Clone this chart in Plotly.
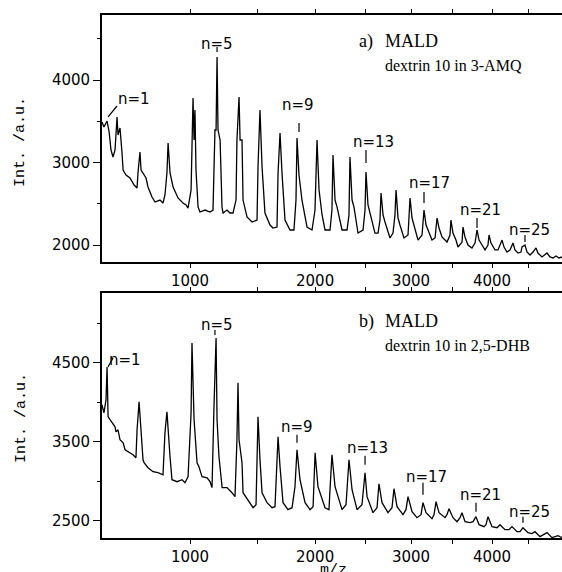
import numpy as np
import plotly.graph_objects as go

# ---------------- data ----------------
# a) MALD, dextrin 10 in 3-AMQ
mz_a = [502, 511, 526, 536, 545, 555, 565, 575, 580, 590,
        600, 606, 621, 642, 664, 680, 685, 696, 702, 713,
        730, 741, 764, 782, 811, 829, 841, 853, 860, 872,
        891, 922, 954, 974, 987, 1007, 1013, 1020, 1027, 1033,
        1040, 1054, 1067, 1102, 1137, 1158, 1172, 1180, 1187, 1194,
        1209, 1223, 1231, 1260, 1282, 1305, 1328, 1335, 1351, 1359,
        1374, 1382, 1413, 1453, 1493, 1501, 1517, 1534, 1558, 1600,
        1625, 1659, 1668, 1685, 1702, 1728, 1772, 1807, 1825, 1834,
        1852, 1879, 1925, 1971, 1999, 2018, 2037, 2066, 2094, 2142,
        2161, 2171, 2191, 2211, 2260, 2310, 2330, 2340, 2361, 2381,
        2422, 2474, 2495, 2505, 2526, 2547, 2600, 2633, 2654, 2665,
        2687, 2708, 2763, 2796, 2818, 2830, 2852, 2874, 2919, 2965,
        2976, 2988, 3011, 3034, 3080, 3127, 3138, 3150, 3174, 3197,
        3245, 3281, 3305, 3329, 3365, 3426, 3463, 3475, 3500, 3537,
        3562, 3613, 3625, 3650, 3688, 3739, 3778, 3804, 3830, 3869,
        3908, 3947, 3961, 3987, 4040, 4080, 4134, 4161, 4201, 4242,
        4283, 4310, 4352, 4393, 4407, 4449, 4477, 4519, 4562, 4604,
        4632, 4690, 4733, 4762, 4805, 4849, 4893, 4937, 4981]
int_a = [3491, 3430, 3503, 3370, 3152, 3067, 3152, 3552, 3333, 3418,
         3127, 2909, 2849, 2812, 2727, 2691, 2873, 3127, 2909, 2873,
         2812, 2703, 2582, 2521, 2545, 2509, 2606, 2873, 3236, 2873,
         2703, 2570, 2509, 2485, 2448, 2667, 3152, 3782, 3273, 3636,
         2909, 2460, 2400, 2424, 2400, 2424, 3394, 3394, 4279, 3394,
         3273, 2460, 2388, 2424, 2388, 2388, 2545, 3273, 3794, 3273,
         3273, 2545, 2340, 2279, 2303, 2945, 3636, 2945, 2388, 2242,
         2206, 2218, 2873, 3358, 2873, 2303, 2182, 2182, 2545, 3297,
         2848, 2545, 2218, 2182, 2424, 3273, 2667, 2364, 2182, 2182,
         2424, 3091, 2545, 2460, 2182, 2182, 2364, 3067, 2545, 2460,
         2145, 2182, 2424, 2885, 2485, 2388, 2145, 2145, 2303, 2630,
         2364, 2279, 2085, 2145, 2364, 2667, 2327, 2242, 2085, 2121,
         2279, 2570, 2327, 2242, 2060, 2121, 2242, 2424, 2242, 2182,
         2060, 2085, 2327, 2206, 2097, 2036, 2121, 2303, 2145, 2060,
         1976, 2036, 2218, 2097, 2000, 1964, 2024, 2182, 2060, 2000,
         1940, 2000, 2121, 2024, 1940, 1940, 2060, 1976, 1915, 1940,
         2024, 1940, 1903, 1915, 1976, 2000, 1915, 1879, 1915, 1964,
         1903, 1855, 1879, 1903, 1855, 1843, 1867, 1843, 1855]

# b) MALD, dextrin 10 in 2,5-DHB
mz_b = [502, 511, 521, 526, 531, 540, 555, 565, 570, 580,
        590, 606, 616, 642, 658, 674, 680, 691, 702, 713,
        719, 741, 770, 799, 829, 841, 853, 860, 872, 884,
        916, 948, 967, 987, 1007, 1013, 1027, 1047, 1060, 1081,
        1116, 1137, 1151, 1165, 1180, 1187, 1201, 1224, 1260, 1297,
        1320, 1335, 1343, 1351, 1374, 1382, 1421, 1461, 1485, 1493,
        1501, 1517, 1534, 1575, 1617, 1642, 1659, 1668, 1685, 1711,
        1754, 1790, 1816, 1834, 1861, 1907, 1953, 1981, 2000, 2027,
        2094, 2132, 2142, 2161, 2191, 2260, 2300, 2330, 2361, 2412,
        2463, 2495, 2516, 2579, 2622, 2643, 2676, 2741, 2785, 2807,
        2841, 2908, 2942, 2965, 3011, 3068, 3115, 3138, 3174, 3245,
        3269, 3293, 3329, 3402, 3426, 3451, 3500, 3550, 3588, 3612,
        3651, 3714, 3753, 3791, 3830, 3895, 3921, 3947, 4000, 4067,
        4107, 4174, 4228, 4269, 4338, 4380, 4421, 4491, 4547, 4590,
        4661, 4718, 4762, 4834, 4922, 4981]
int_b = [3968, 3867, 4032, 4449, 3816, 3778, 3715, 3690, 3626, 3652,
         3525, 3487, 3399, 3361, 3335, 3297, 3652, 4006, 3652, 3272,
         3234, 3171, 3120, 3108, 3082, 3614, 3880, 3614, 3310, 3019,
         2994, 3019, 2981, 3057, 3867, 4753, 3778, 3234, 3183, 3057,
         3044, 2994, 2918, 3943, 4816, 3778, 3310, 2918, 2918, 2854,
         2804, 3525, 4247, 3525, 3234, 2854, 2766, 2664, 2702, 3272,
         3816, 3272, 2854, 2728, 2664, 2677, 3183, 3563, 3183, 2728,
         2639, 2664, 2930, 3399, 3019, 2728, 2639, 2677, 3361, 2930,
         2664, 2639, 2892, 3335, 2930, 2639, 2702, 3272, 2892, 2639,
         2702, 3108, 2804, 2601, 2664, 2968, 2728, 2601, 2664, 2905,
         2677, 2576, 2639, 2804, 2614, 2538, 2576, 2728, 2601, 2525,
         2576, 2740, 2601, 2538, 2576, 2652, 2538, 2487, 2538, 2601,
         2487, 2474, 2487, 2550, 2449, 2424, 2449, 2550, 2424, 2411,
         2449, 2386, 2386, 2424, 2360, 2360, 2411, 2348, 2335, 2360,
         2297, 2323, 2348, 2285, 2310, 2285]

# peak labels n = 5, 9, ... 25
label_text = ["n=5", "n=9", "n=13", "n=17", "n=21", "n=25"]
peak_mz_a = [1187, 1852, 2505, 3150, 3804, 4449]
text_mz_a = [1187, 1843, 2579, 3209, 3843, 4519]
text_int_a = [4436, 3697, 3249, 2752, 2424, 2182]
tick_top_a = [4400, 3479, 3152, 2642, 2327, 2121]
tick_bot_a = [4339, 3370, 2994, 2509, 2206, 2036]

peak_mz_b = [1172, 1834, 2495, 3138, 3791, 4421]
text_mz_b = [1187, 1834, 2526, 3174, 3843, 4519]
text_int_b = [4981, 3690, 3424, 3057, 2829, 2614]
tick_top_b = [4918, 3588, 3323, 2981, 2728, 2550]
tick_bot_b = [4854, 3487, 3209, 2829, 2614, 2474]

# "n=1" labels with slanted leader
n1_text_mz = [664, 616]
n1_text_int = [3770, 4538]
n1_lead_mz = [[531, 575], [531, 555]]
n1_lead_int = [[3552, 3685], [4449, 4563]]

x_ticks = [1000, 2000, 3000, 4000]
x_minor = [1500, 2500, 3500, 4500]
ya_ticks = [2000, 3000, 4000]
ya_minor = [2500, 3500, 4500]
yb_ticks = [2500, 3500, 4500]
yb_minor = [3000, 4000, 5000]
mz_range = [502, 4981]
ya_range = [1794, 4788]
yb_range = [2280, 5386]

# ---------------- figure ----------------
sq = np.sqrt
fig = go.Figure()
fig.add_trace(go.Scatter(x=sq(mz_a), y=int_a, mode="lines",
                         line=dict(color="black", width=1.3),
                         xaxis="x", yaxis="y", hoverinfo="skip"))
fig.add_trace(go.Scatter(x=sq(mz_b), y=int_b, mode="lines",
                         line=dict(color="black", width=1.3),
                         xaxis="x2", yaxis="y2", hoverinfo="skip"))

tickfont = dict(family="DejaVu Sans", size=15, color="black")


def xax(anchor):
    return dict(range=list(sq(mz_range)), tickmode="array",
                tickvals=list(sq(x_ticks)), ticktext=[str(v) for v in x_ticks],
                ticks="outside", ticklen=4, tickwidth=1.3, tickcolor="black",
                minor=dict(tickmode="array", tickvals=list(sq(x_minor)),
                           ticks="outside", ticklen=4, tickwidth=1.3,
                           tickcolor="black", showgrid=False),
                showline=True, linewidth=1.8, linecolor="black", mirror="ticks",
                showgrid=False, zeroline=False, tickfont=tickfont, anchor=anchor,
                domain=[0, 1])


def yax(rng, major, minor, dom, anchor):
    return dict(range=rng, tickmode="array", tickvals=major,
                ticktext=[str(v) for v in major],
                ticks="outside", ticklen=7, tickwidth=1.3, tickcolor="black",
                minor=dict(tickmode="array", tickvals=minor, ticks="outside",
                           ticklen=3, tickwidth=1.3, tickcolor="black",
                           showgrid=False),
                showline=True, linewidth=1.8, linecolor="black", mirror=False,
                showgrid=False, zeroline=False, tickfont=tickfont,
                domain=dom, anchor=anchor)


W, H = 562, 572
ml, mr, mt, mb = 102, 0, 15, 34
ph = H - mt - mb
pw = W - ml - mr


def py(p):  # pixel row -> paper y
    return (H - mb - p) / ph


def px(p):  # pixel column -> paper x
    return (p - ml) / pw


fig.update_layout(
    width=W, height=H, margin=dict(l=ml, r=mr, t=mt, b=mb),
    paper_bgcolor="white", plot_bgcolor="white", showlegend=False,
    xaxis=xax("y"),
    yaxis=yax(ya_range, ya_ticks, ya_minor, [py(262), 1], "x"),
    xaxis2=xax("y2"),
    yaxis2=yax(yb_range, yb_ticks, yb_minor, [0, py(293)], "x2"),
)

shapes = []
annotations = []
lab_font = dict(family="DejaVu Sans", size=15, color="black")
panels = [("x", "y", peak_mz_a, text_mz_a, text_int_a, tick_top_a, tick_bot_a),
          ("x2", "y2", peak_mz_b, text_mz_b, text_int_b, tick_top_b, tick_bot_b)]
for k, (xr, yr, pm, tm, ti, tt, tb) in enumerate(panels):
    for i, t in enumerate(label_text):
        shapes.append(dict(type="line", xref=xr, yref=yr,
                           x0=sq(pm[i]), x1=sq(pm[i]), y0=tb[i], y1=tt[i],
                           line=dict(color="black", width=1.2)))
        annotations.append(dict(x=sq(tm[i]), y=ti[i], xref=xr, yref=yr, text=t,
                                showarrow=False, xanchor="center",
                                yanchor="middle", font=lab_font))
    # n=1
    shapes.append(dict(type="line", xref=xr, yref=yr,
                       x0=sq(n1_lead_mz[k][0]), x1=sq(n1_lead_mz[k][1]),
                       y0=n1_lead_int[k][0], y1=n1_lead_int[k][1],
                       line=dict(color="black", width=1.2)))
    annotations.append(dict(x=sq(n1_text_mz[k]), y=n1_text_int[k], xref=xr,
                            yref=yr, text="n=1", showarrow=False,
                            xanchor="center", yanchor="middle", font=lab_font))

serif_big = dict(family="Liberation Serif", size=18, color="black")
serif_small = dict(family="Liberation Serif", size=16, color="black")
mono = dict(family="Liberation Mono", size=15, color="black")
for tag, sub, ycap, ysub in [("a)", "dextrin 10 in 3-AMQ", 41, 65),
                             ("b)", "dextrin 10 in 2,5-DHB", 321, 345)]:
    annotations.append(dict(x=px(357), y=py(ycap), xref="paper", yref="paper",
                            text=tag, showarrow=False, xanchor="left",
                            yanchor="middle", font=serif_big))
    annotations.append(dict(x=px(383), y=py(ycap), xref="paper", yref="paper",
                            text="MALD", showarrow=False, xanchor="left",
                            yanchor="middle", font=serif_big))
    annotations.append(dict(x=px(383), y=py(ysub), xref="paper", yref="paper",
                            text=sub, showarrow=False, xanchor="left",
                            yanchor="middle", font=serif_small))

for yc in (142, 418):
    annotations.append(dict(x=px(21), y=py(yc), xref="paper", yref="paper",
                            text="Int. /a.u.", textangle=-90, showarrow=False,
                            xanchor="center", yanchor="middle", font=mono))
annotations.append(dict(x=px(333), y=py(560), xref="paper", yref="paper",
                        text="m/z", showarrow=False, xanchor="center",
                        yanchor="top", font=mono))

fig.update_layout(shapes=shapes, annotations=annotations)
fig.write_html(
    "out.html",
    config={"displayModeBar": False},
    post_script="document.body.style.margin='0';"
                "document.body.style.overflow='hidden';"
                "document.documentElement.style.overflow='hidden';",
)
